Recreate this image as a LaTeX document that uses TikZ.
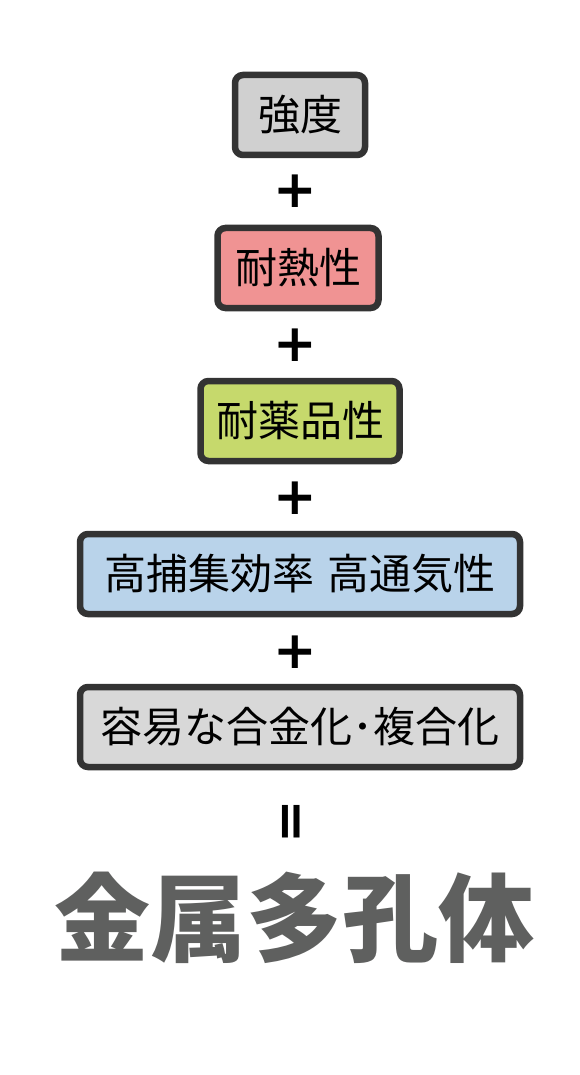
\documentclass[tikz,border=0pt]{standalone}
\usepackage{fontspec}
\newfontfamily\cjk{Noto Sans CJK JP}
\newfontfamily\symb{DejaVu Sans}
\definecolor{edgegray}{HTML}{333333}
\definecolor{boxgray}{HTML}{D0D0D0}
\definecolor{boxpink}{HTML}{F09393}
\definecolor{boxgreen}{HTML}{C6D96C}
\definecolor{boxblue}{HTML}{B9D3EA}
\definecolor{boxlight}{HTML}{D8D8D8}
\definecolor{resultgray}{HTML}{5F605F}
\tikzset{
  propbox/.style={draw=edgegray,line width=6.5pt,rounded corners=8pt,minimum height=80pt,inner xsep=12pt,font=\cjk\fontsize{42}{42}\selectfont},
  plussign/.style={font=\symb\bfseries\fontsize{52}{52}\selectfont,inner sep=0pt},
}
\begin{document}
\begin{tikzpicture}[x=1pt,y=-1pt]
  \useasboundingbox[fill=white] (0,0) rectangle (580,1075);
  \node[propbox,fill=boxgray,minimum width=130pt] (strength) at (300,115) {強度};
  \node[propbox,fill=boxpink,minimum width=161pt] (heat) at (298,268) {耐熱性};
  \node[propbox,fill=boxgreen,minimum width=199pt] (chem) at (300,421) {耐薬品性};
  \node[propbox,fill=boxblue,minimum width=440pt] (filt) at (300,574) {高捕集効率\hspace{0.3em}高通気性};
  \node[propbox,fill=boxlight,minimum width=440pt] (alloy) at (300,727) {容易な合金化･複合化};
  % signs between the boxes
  \node[plussign] (plusa) at (295,191) {+};
  \node[plussign] (plusb) at (295,345) {+};
  \node[plussign] (plusc) at (295,498) {+};
  \node[plussign] (plusd) at (295,652) {+};
  \node[plussign,rotate=90] (eq) at (295,822) {=};
  \node[font=\cjk\bfseries\fontsize{96}{96}\selectfont,text=resultgray] (result) at (294,918) {金属多孔体};
\end{tikzpicture}
\end{document}
